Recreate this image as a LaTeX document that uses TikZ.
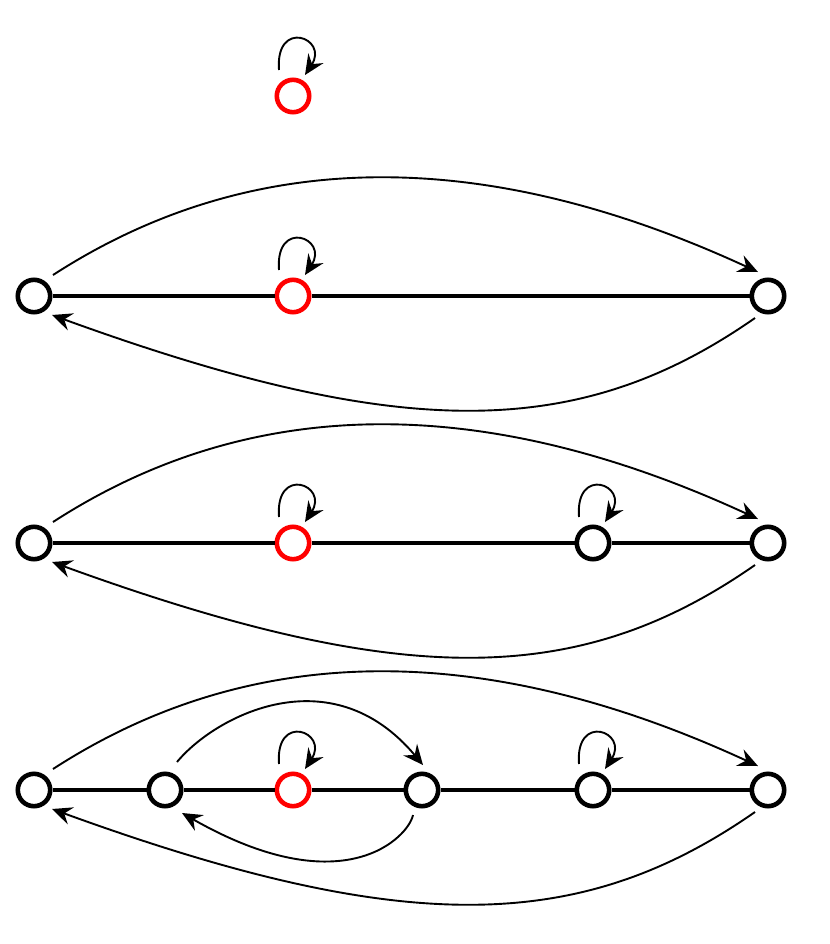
\documentclass[tikz,border=0pt]{standalone}
\usetikzlibrary{arrows.meta}
\definecolor{loopred}{RGB}{255,0,0}
\tikzset{
  vtx/.style={circle,draw=black,line width=2.3pt,fill=white,minimum size=16.2pt,inner sep=0pt},
  redvtx/.style={vtx,draw=loopred},
  bond/.style={line width=2.3pt},
  arc/.style={line width=0.95pt,-{Stealth[length=10pt,width=9pt,inset=3.5pt]}},
}
\newcommand{\SelfLoop}[1]{%
  \draw[arc] ([shift={(-14,-26)}]#1.center) .. controls ([shift={(-18,-78)}]#1.center) and ([shift={(36,-58)}]#1.center) .. ([shift={(12,-21)}]#1.center);}
\newcommand{\BigArcs}[2]{%
  \draw[arc] ([shift={(19,-21)}]#1.center) .. controls ([shift={(226,-155)}]#1.center) and ([shift={(-272,-145)}]#2.center) .. ([shift={(-10,-24)}]#2.center);
  \draw[arc] ([shift={(-13,22)}]#2.center) .. controls ([shift={(-188,144)}]#2.center) and ([shift={(370,147)}]#1.center) .. ([shift={(18,19)}]#1.center);}
\begin{document}
\begin{tikzpicture}[x=0.5pt,y=-0.5pt]
\useasboundingbox (0,0) rectangle (830,944);
% row 1
\node[redvtx] (a1) at (293,96) {};
\SelfLoop{a1}
% row 2
\node[vtx] (l2) at (34,296) {};
\node[redvtx] (c2) at (293,296) {};
\node[vtx] (r2) at (768,296) {};
\draw[bond] (l2) -- (c2);
\draw[bond] (c2) -- (r2);
\SelfLoop{c2}
\BigArcs{l2}{r2}
% row 3
\node[vtx] (l3) at (34,543) {};
\node[redvtx] (c3) at (293,543) {};
\node[vtx] (e3) at (593,543) {};
\node[vtx] (r3) at (768,543) {};
\draw[bond] (l3) -- (c3);
\draw[bond] (c3) -- (e3);
\draw[bond] (e3) -- (r3);
\SelfLoop{c3}
\SelfLoop{e3}
\BigArcs{l3}{r3}
% row 4
\node[vtx] (l4) at (34,790) {};
\node[vtx] (b4) at (165,790) {};
\node[redvtx] (c4) at (293,790) {};
\node[vtx] (d4) at (422,790) {};
\node[vtx] (e4) at (593,790) {};
\node[vtx] (r4) at (768,790) {};
\draw[bond] (l4) -- (b4);
\draw[bond] (b4) -- (c4);
\draw[bond] (c4) -- (d4);
\draw[bond] (d4) -- (e4);
\draw[bond] (e4) -- (r4);
\SelfLoop{c4}
\SelfLoop{e4}
\BigArcs{l4}{r4}
\draw[arc] ([shift={(12,-28)}]b4.center) .. controls ([shift={(50,-74)}]b4.center) and ([shift={(-91,-135)}]d4.center) .. ([shift={(1,-25)}]d4.center);
\draw[arc] ([shift={(-9,25)}]d4.center) .. controls ([shift={(-13,46)}]d4.center) and ([shift={(180,116)}]b4.center) .. ([shift={(17,23)}]b4.center);
\end{tikzpicture}
\end{document}
